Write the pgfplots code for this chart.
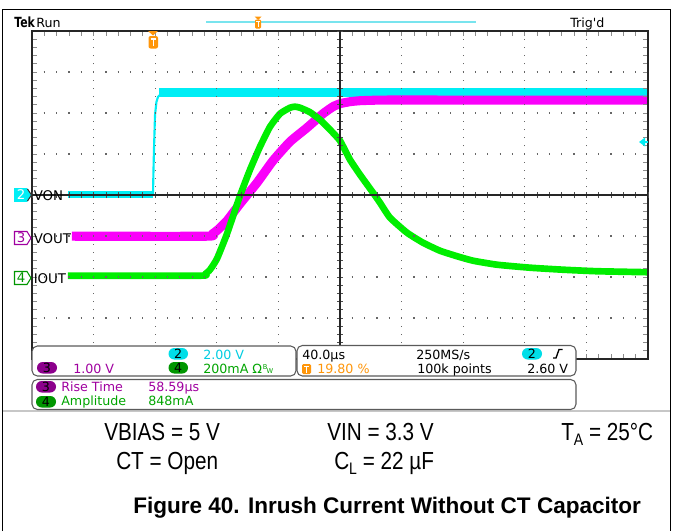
\documentclass[border=0pt]{standalone}
\usepackage{fontspec}
\setmainfont{Liberation Sans}
\newfontfamily\tek{DejaVu Sans}
\newfontfamily\tekc[FakeStretch=0.78]{DejaVu Sans}
\newfontfamily\condfont[FakeStretch=0.84]{Liberation Sans}
\newfontfamily\capfont{Liberation Sans}
\usepackage{pgfplots}
\pgfplotsset{compat=1.18}
\definecolor{cyanT}{RGB}{0,238,245}
\definecolor{topcyan}{RGB}{120,228,238}
\definecolor{magT}{RGB}{250,0,250}
\definecolor{greenT}{RGB}{0,238,0}
\definecolor{orangeT}{RGB}{255,150,10}
\definecolor{purpText}{RGB}{160,0,160}
\definecolor{purpPill}{RGB}{140,0,140}
\definecolor{greenText}{RGB}{0,165,0}
\definecolor{greenPill}{RGB}{0,150,0}
\definecolor{cyanText}{RGB}{0,205,225}
\definecolor{cyanPill}{RGB}{0,222,232}
\definecolor{boxgray}{RGB}{90,90,90}
\newcommand\tk{\tek\fontsize{9.5pt}{11pt}\selectfont}
\newcommand\tl{\tek\fontsize{10pt}{12pt}\selectfont}
\newcommand\cf{\condfont\fontsize{18.5pt}{20pt}\selectfont}
\begin{document}
\begin{tikzpicture}
\begin{scope}[x=0.75pt,y=-0.75pt]
\path[use as bounding box] (0,0) rectangle (673,531);
\end{scope}
% ---------- main graticule + traces ----------
\begin{axis}[at={(24pt,-269.25pt)}, anchor=south west, scale only axis,
  width=462pt, height=246pt, xmin=-5, xmax=5, ymin=-4, ymax=4,
  xtick={-5,...,5}, ytick={-4,...,4}, minor x tick num=4, minor y tick num=4,
  xticklabels={}, yticklabels={},
  grid=major,
  x grid style={black!60, line width=0.9pt, dash pattern=on 0.9pt off 5.25pt, dash phase=0.45pt},
  y grid style={black!60, line width=0.9pt, dash pattern=on 0.9pt off 8.34pt, dash phase=0.45pt},
  axis line style={black!85, line width=1pt},
  tick style={black!45, line width=0.6pt},
  major tick length=3.5pt, minor tick length=3.5pt,
  axis on top, clip=true]
% CH2 VON (cyan)
\addplot[cyanT, line width=5.5pt] coordinates {(-4.416,0.02) (-3.035,0.02)};
\addplot[cyanT, line width=1.6pt, line join=round] coordinates {(-3.036,0.02) (-3.028,0.6) (-3.02,1.10) (-3.003,1.95) (-2.98,2.27) (-2.955,2.39) (-2.906,2.47) (-2.85,2.49)};
\addplot[cyanT, line width=7pt] coordinates {(-2.94,2.507) (5,2.507)};
% CH3 VOUT (magenta)
\addplot[magT, line width=6.8pt, line join=round, smooth, tension=0.3] coordinates {
(-4.351,-1.005) (-2.159,-1.005) (-2.078,-0.956) (-1.981,-0.846) (-1.834,-0.627)
(-1.623,-0.212) (-1.347,0.300) (-1.088,0.837) (-0.812,1.300) (-0.536,1.641)
(-0.276,1.983) (-0.114,2.154) (0,2.227) (0.162,2.276) (0.325,2.300) (0.568,2.312)
(0.974,2.317) (5,2.312)};
% CH4 IOUT (green)
\addplot[greenT, line width=5pt, line join=round, smooth, tension=0.3] coordinates {
(-4.416,-1.968) (-2.273,-1.968) (-2.192,-1.932) (-2.110,-1.822) (-1.997,-1.554)
(-1.834,-0.944) (-1.623,-0.017) (-1.461,0.617) (-1.299,1.178) (-1.136,1.666)
(-0.974,1.983) (-0.812,2.129) (-0.731,2.154) (-0.649,2.129) (-0.487,2.020)
(-0.325,1.837) (-0.162,1.593) (0,1.324) (0.162,0.861) (0.325,0.495) (0.536,0.056)
(0.649,-0.188) (0.812,-0.554) (1.088,-0.920) (1.347,-1.163) (1.623,-1.359)
(1.899,-1.493) (2.159,-1.602) (2.549,-1.700) (3.084,-1.773) (3.620,-1.822)
(4.172,-1.859) (5,-1.883)};
\end{axis}
% ---------- centre cross lines ----------
\begin{axis}[at={(24pt,-269.25pt)}, anchor=south west, scale only axis,
  width=462pt, height=246pt, xmin=-5, xmax=5, ymin=-4, ymax=4,
  axis lines=middle, axis line style={-, black!85, line width=1pt},
  xtick distance=0.2, ytick distance=0.2, xticklabels={}, yticklabels={},
  tick align=center, major tick length=4.5pt,
  tick style={black!70, line width=0.6pt}]
\end{axis}
% ---------- annotations ----------
\begin{scope}[x=0.75pt,y=-0.75pt]
% frame
\draw[black, line width=1.1pt] (2.5,531) -- (2.5,9.5) -- (670.5,9.5) -- (670.5,531);
\draw[black!22, line width=1.5pt] (3,411) -- (670,411);
% top bar
\node[anchor=base west, inner sep=0, font=\tekc\bfseries\fontsize{10.5pt}{12pt}\selectfont] at (14,27) {Tek};
\node[anchor=base west, inner sep=0, font=\tk] at (36,27) {Run};
\node[anchor=base west, inner sep=0, font=\tk] at (570,27) {Trig'd};
\draw[topcyan, line width=1.8pt] (206,22) -- (476,22);
\fill[orangeT] (254.5,16.5) -- (261.5,16.5) -- (258,20) -- cycle;
\fill[orangeT, rounded corners=0.8pt] (255,19.5) rectangle (261,28.5);
\draw[white, line width=0.7pt] (256.3,21.7) -- (259.7,21.7) (258,21.7) -- (258,27);
% trigger position marker
\fill[orangeT] (148,31) -- (158,31) -- (153,35.5) -- cycle;
\fill[orangeT, rounded corners=1.5pt] (148.5,36) rectangle (158,48.5);
\draw[white, line width=1.1pt] (150.5,39) -- (156,39) (153.25,39) -- (153.25,46);
% trigger level arrow (right)
\fill[cyanT] (639,142) -- (645,137.5) -- (645,146.5) -- cycle;
\draw[cyanT, line width=1.5pt] (644,142) -- (648,142);
% channel tags
\filldraw[fill=cyanT, draw=cyanT] (14.5,188.5) -- (27,188.5) -- (31,195) -- (27,201.5) -- (14.5,201.5) -- cycle;
\draw[black!80, line width=0.8pt] (27.5,189) -- (31.5,195) -- (27.5,201);
\node[white, inner sep=0, font=\tl] at (21,195) {2};
\node[anchor=base west, inner sep=0, font=\tl] at (33.5,200) {VON};
\filldraw[fill=white, draw=purpText, line width=0.8pt] (14.5,231.5) -- (27,231.5) -- (31,238) -- (27,244.5) -- (14.5,244.5) -- cycle;
\node[purpText, inner sep=0, font=\tl] at (21,238) {3};
\node[anchor=base west, inner sep=0, font=\tl] at (33.5,243) {VOUT};
\filldraw[fill=white, draw=greenPill, line width=0.8pt] (14.5,271.5) -- (27,271.5) -- (31,278) -- (27,284.5) -- (14.5,284.5) -- cycle;
\node[greenPill, inner sep=0, font=\tl] at (21,278) {4};
\node[anchor=base west, inner sep=0, font=\tl] at (33.5,283) {IOUT};
% info boxes
\draw[boxgray, fill=white, line width=0.8pt, rounded corners=4pt] (32,346) rectangle (296,376);
\draw[boxgray, fill=white, line width=0.8pt, rounded corners=4pt] (297,345.5) rectangle (576,376);
\draw[boxgray, fill=white, line width=0.8pt, rounded corners=4pt] (32,379.5) rectangle (576,409.5);
% pills
\fill[cyanPill, rounded corners=4.3pt] (168.5,348) rectangle (188,359.5);
\node[inner sep=0, font=\tk] at (178.25,353.75) {2};
\fill[purpPill, rounded corners=4.3pt] (37,362) rectangle (57,373.5);
\node[inner sep=0, font=\tk] at (47,367.75) {3};
\fill[greenPill, rounded corners=4.3pt] (168.5,362) rectangle (188,373.5);
\node[inner sep=0, font=\tk] at (178.25,367.75) {4};
\fill[purpPill, rounded corners=4.3pt] (36,381) rectangle (56,392.5);
\node[inner sep=0, font=\tk] at (46,386.75) {3};
\fill[greenPill, rounded corners=4.3pt] (36,396) rectangle (56,407.5);
\node[inner sep=0, font=\tk] at (46,401.75) {4};
\fill[cyanPill, rounded corners=4.3pt] (522,348) rectangle (542,359.5);
\node[inner sep=0, font=\tk] at (532,353.75) {2};
% box texts
\node[anchor=base west, inner sep=0, font=\tk, cyanText] at (203,359) {2.00 V};
\node[anchor=base west, inner sep=0, font=\tk, purpText] at (73,373) {1.00 V};
\node[anchor=base west, inner sep=0, font=\tk, greenText] at (203,373) {200mA Ω\kern0.5pt\raisebox{2.5pt}{\fontsize{5pt}{5pt}\selectfont B}\kern-0.5pt\raisebox{-0.5pt}{\fontsize{5pt}{5pt}\selectfont W}};
\node[anchor=base west, inner sep=0, font=\tk] at (302,359) {40.0µs};
\node[anchor=base west, inner sep=0, font=\tk] at (416,359) {250MS/s};
\draw[black, line width=1pt] (553,358) -- (556,358) -- (559,349.5) -- (562.5,349.5);
\fill[orangeT, rounded corners=1pt] (302,364) rectangle (311,374);
\draw[white, line width=1pt] (304,366.5) -- (309,366.5) (306.5,366.5) -- (306.5,372.5);
\node[anchor=base west, inner sep=0, font=\tk, orangeT] at (317,373) {19.80 \%};
\node[anchor=base west, inner sep=0, font=\tk] at (417,373) {100k points};
\node[anchor=base west, inner sep=0, font=\tk] at (527,373) {2.60 V};
\node[anchor=base west, inner sep=0, font=\tk, purpText] at (61,391) {Rise Time};
\node[anchor=base west, inner sep=0, font=\tk, purpText] at (148,391) {58.59µs};
\node[anchor=base west, inner sep=0, font=\tk, greenText] at (61,405.5) {Amplitude};
\node[anchor=base west, inner sep=0, font=\tk, greenText] at (148,405.5) {848mA};
% conditions
\node[anchor=base west, inner sep=0, font=\cf] at (104,440) {VBIAS = 5 V};
\node[anchor=base west, inner sep=0, font=\cf] at (327,440) {VIN = 3.3 V};
\node[anchor=base west, inner sep=0, font=\cf] at (561,440) {T\raisebox{-4pt}{\fontsize{12.5pt}{13pt}\selectfont A} = 25°C};
\node[anchor=base west, inner sep=0, font=\cf] at (116,469) {CT = Open};
\node[anchor=base west, inner sep=0, font=\cf] at (334,469) {C\raisebox{-4pt}{\fontsize{12.5pt}{13pt}\selectfont L} = 22 µF};
\node[anchor=base west, inner sep=0, font=\capfont\bfseries\fontsize{16.9pt}{20pt}\selectfont] at (133,513) {Figure 40. Inrush Current Without CT Capacitor};
\end{scope}
\end{tikzpicture}
\end{document}
